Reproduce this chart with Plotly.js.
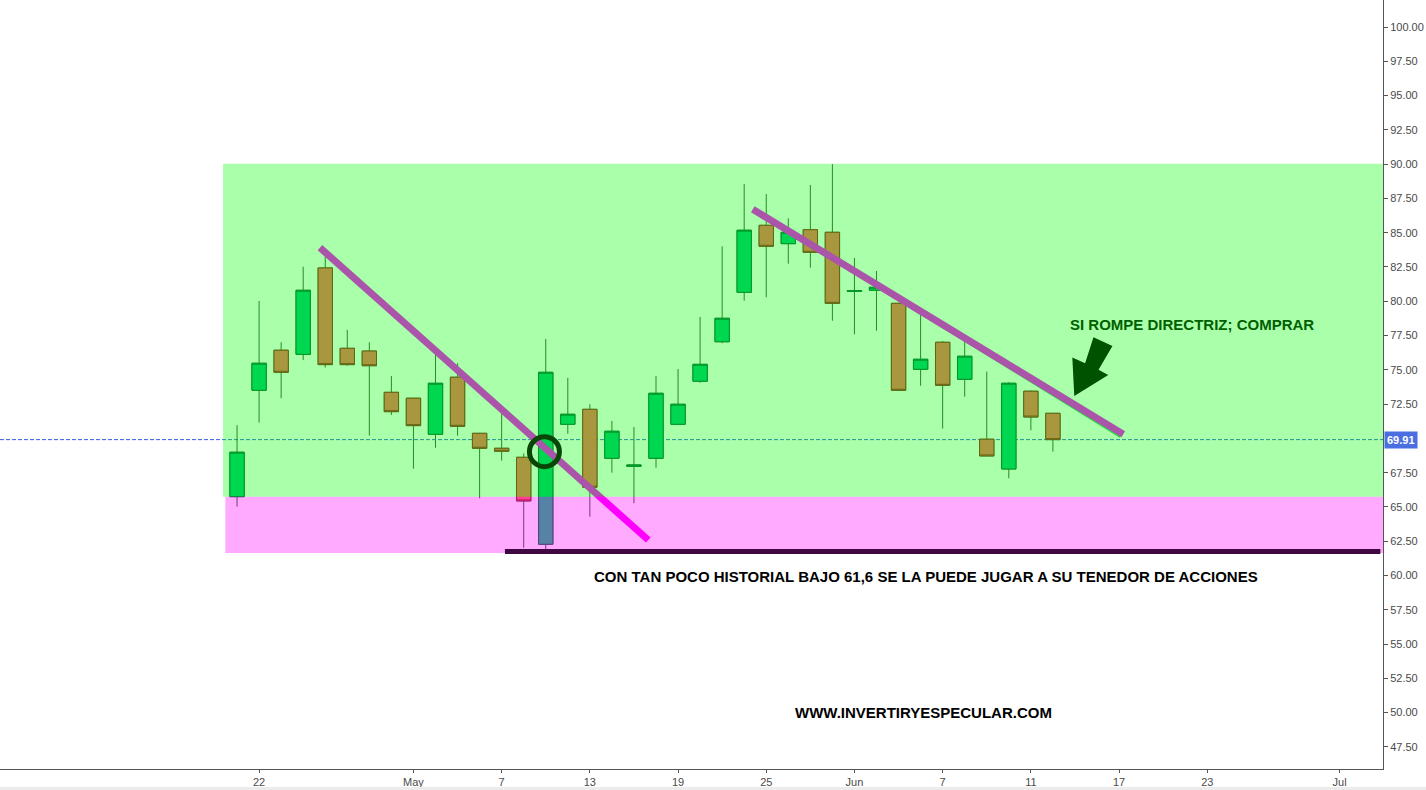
<!DOCTYPE html>
<html>
<head>
<meta charset="utf-8">
<script src="https://cdn.plot.ly/plotly-3.0.1.min.js"></script>
<style>
html,body{margin:0;padding:0;background:#ffffff;}
#chart{width:1426px;height:790px;}
</style>
</head>
<body>
<div id="chart"></div>
<script>
// ---- data (daily bars) ----
const barIndex = [0,1,2,3,4,5,6,7,8,9,10,11,12,13,14,15,16,17,18,19,20,21,22,23,24,25,26,27,28,29,30,31,32,33,34,35,36,37];
const openP  = [65.75,73.51,76.43,76.13,82.43,76.57,76.37,73.36,72.93,70.30,74.46,70.37,69.28,68.62,62.28,71.03,72.12,68.55,67.96,68.55,71.03,74.17,77.05,80.65,85.54,84.20,85.22,85.03,80.72,80.80,79.85,75.04,77.01,74.31,69.94,67.77,73.44,71.83];
const highP  = [70.96,80.02,77.01,82.52,83.25,77.91,77.01,74.55,72.95,76.08,75.48,70.40,71.83,68.91,77.25,74.41,72.49,71.27,70.83,74.55,75.06,78.85,84.01,88.55,87.82,86.05,88.48,90.00,83.16,82.21,79.90,79.12,77.10,77.18,74.87,74.10,73.50,71.85];
const lowP   = [65.02,71.15,72.93,75.72,75.16,75.30,70.20,71.71,67.79,69.32,70.20,65.63,68.38,62.03,61.94,70.34,64.29,67.50,65.27,67.86,71.00,74.06,76.94,80.04,80.29,82.74,82.45,78.58,77.59,77.85,73.45,73.84,70.71,73.04,68.70,67.09,70.59,69.03];
const closeP = [68.99,75.48,74.82,80.80,75.38,75.38,75.30,71.95,70.93,74.02,70.88,69.28,69.06,65.44,74.82,71.76,66.44,70.52,68.06,73.29,72.49,75.40,78.76,85.18,84.01,85.03,83.57,79.85,80.78,81.02,73.51,75.77,73.87,75.99,68.72,74.02,71.56,69.91];

const tickPos  = [1,8,12,16,20,24,28,32,36,40,44,50];
const tickText = ['22','May','7','13','19','25','Jun','7','11','17','23','Jul'];
// price-scale labels (70.00 is hidden behind the last-price tag)
const yTickVals = [47.5,50,52.5,55,57.5,60,62.5,65,67.5,72.5,75,77.5,80,82.5,85,87.5,90,92.5,95,97.5,100];

const lastPrice = closeP[closeP.length-1];
const bodyTop = openP.map((o,i)=>Math.max(o,closeP[i]));
const bodyBot = openP.map((o,i)=>Math.min(o,closeP[i]));

// ---- colours (true colours; zones drawn over them at 1/3 opacity) ----
const upFill = 'rgb(0,195,120)';
const upBorder = 'rgb(0,100,60)';
const dnFill = 'rgb(252,100,94)';
const dnBorder = 'rgb(150,25,30)';
const wickCol = 'rgb(55,85,55)';

const traceWicks = {
  type:'candlestick', x:barIndex, open:openP, high:highP, low:lowP, close:closeP,
  increasing:{line:{color:wickCol,width:1}, fillcolor:upFill},
  decreasing:{line:{color:wickCol,width:1}, fillcolor:dnFill},
  whiskerwidth:0, hoverinfo:'skip', showlegend:false
};
const traceBodies = {
  type:'candlestick', x:barIndex, open:openP, high:bodyTop, low:bodyBot, close:closeP,
  increasing:{line:{color:upBorder,width:1}, fillcolor:upFill},
  decreasing:{line:{color:dnBorder,width:1}, fillcolor:dnFill},
  whiskerwidth:0, hoverinfo:'skip', showlegend:false
};

const shapes = [
  // last price line
  {type:'line', layer:'below', xref:'paper', x0:0, x1:1, yref:'y', y0:lastPrice, y1:lastPrice,
   line:{color:'rgb(50,95,220)', width:1, dash:'4px,2px'}},
  // trend lines (under the translucent zones)
  {type:'line', layer:'above', xref:'x', yref:'y', x0:3.76, y0:83.91, x1:18.65, y1:62.59,
   line:{color:'#ff00ff', width:7}},
  {type:'line', layer:'above', xref:'x', yref:'y', x0:30.07, y0:80.02, x1:40.05, y1:70.10,
   line:{color:'rgb(40,200,90)', width:1.5}},
  {type:'line', layer:'above', xref:'x', yref:'y', x0:23.39, y0:86.71, x1:40.19, y1:70.30,
   line:{color:'#ff00ff', width:7}},
  // translucent zones
  {type:'rect', layer:'above', xref:'x', yref:'y', x0:-0.635, x1:60, y0:65.75, y1:90.03,
   fillcolor:'rgba(0,255,0,0.333)', line:{width:0}},
  {type:'rect', layer:'above', xref:'x', yref:'y', x0:-0.53, x1:60, y0:61.65, y1:65.75,
   fillcolor:'rgba(255,0,255,0.333)', line:{width:0}},
  // support line
  {type:'line', layer:'above', xref:'x', yref:'y', x0:12.15, x1:51.85, y0:61.75, y1:61.75,
   line:{color:'rgb(64,8,64)', width:5}},
  // circle
  {type:'circle', layer:'above', xref:'x', yref:'y', x0:13.26, x1:14.62, y0:67.94, y1:70.12,
   line:{color:'rgb(8,70,8)', width:5}},
  // arrow
  {type:'path', layer:'above', xref:'x', yref:'y',
   path:'M 38.84,77.37 L 39.70,76.74 L 39.07,75.00 L 39.51,74.62 L 37.97,73.09 L 37.88,75.90 L 38.46,75.48 Z',
   fillcolor:'rgb(0,82,0)', line:{width:0}},
  // light strip under the time scale
  {type:'rect', layer:'above', xref:'paper', yref:'paper', x0:0, x1:1.0311, y0:-0.0275, y1:-0.0235,
   fillcolor:'#ececec', line:{width:0}}
];

const annotations = [
  {xref:'x', yref:'y', x:43.31, y:78.34, text:'SI ROMPE DIRECTRIZ; COMPRAR', showarrow:false,
   xanchor:'center', yanchor:'middle', font:{family:'Liberation Sans, Arial, sans-serif', size:15, color:'rgb(0,95,0)', weight:'bold'}},
  {xref:'x', yref:'y', x:31.25, y:59.9, text:'CON TAN POCO HISTORIAL BAJO 61,6 SE LA PUEDE JUGAR A SU TENEDOR DE ACCIONES', showarrow:false,
   xanchor:'center', yanchor:'middle', font:{family:'Liberation Sans, Arial, sans-serif', size:15, color:'#000000', weight:'bold'}},
  {xref:'x', yref:'y', x:31.13, y:49.98, text:'WWW.INVERTIRYESPECULAR.COM', showarrow:false,
   xanchor:'center', yanchor:'middle', font:{family:'Liberation Sans, Arial, sans-serif', size:15, color:'#000000', weight:'bold'}},
  {xref:'paper', yref:'y', x:1, y:lastPrice, xanchor:'left', yanchor:'middle', xshift:1,
   text:lastPrice.toFixed(2), showarrow:false, bgcolor:'rgb(75,110,225)', borderpad:2,
   font:{family:'Liberation Sans, Arial, sans-serif', size:11, color:'#ffffff', weight:'bold'}}
];

const layout = {
  width:1426, height:790,
  margin:{l:0, r:43, t:0, b:21, pad:0},
  paper_bgcolor:'#ffffff', plot_bgcolor:'#ffffff',
  showlegend:false, hovermode:false,
  boxgap:0.35, boxgroupgap:0,
  xaxis:{
    range:[-10.75, 51.97], rangeslider:{visible:false},
    tickmode:'array', tickvals:tickPos, ticktext:tickText,
    ticks:'outside', ticklen:3, tickcolor:'#555555',
    showgrid:false, zeroline:false, showline:true, linecolor:'#555555', linewidth:1,
    tickfont:{family:'Liberation Sans, Arial, sans-serif', size:11, color:'#4a4a4a'}
  },
  yaxis:{
    side:'right', range:[45.89, 101.97], tickmode:'array', tickvals:yTickVals, tickformat:'.2f',
    ticks:'outside', ticklen:4, tickcolor:'#555555',
    showgrid:false, zeroline:false, showline:true, linecolor:'#555555', linewidth:1,
    tickfont:{family:'Liberation Sans, Arial, sans-serif', size:11, color:'#4a4a4a'}
  },
  shapes:shapes,
  annotations:annotations
};

Plotly.newPlot('chart', [traceWicks, traceBodies], layout, {displayModeBar:false, staticPlot:true});
</script>
</body>
</html>
